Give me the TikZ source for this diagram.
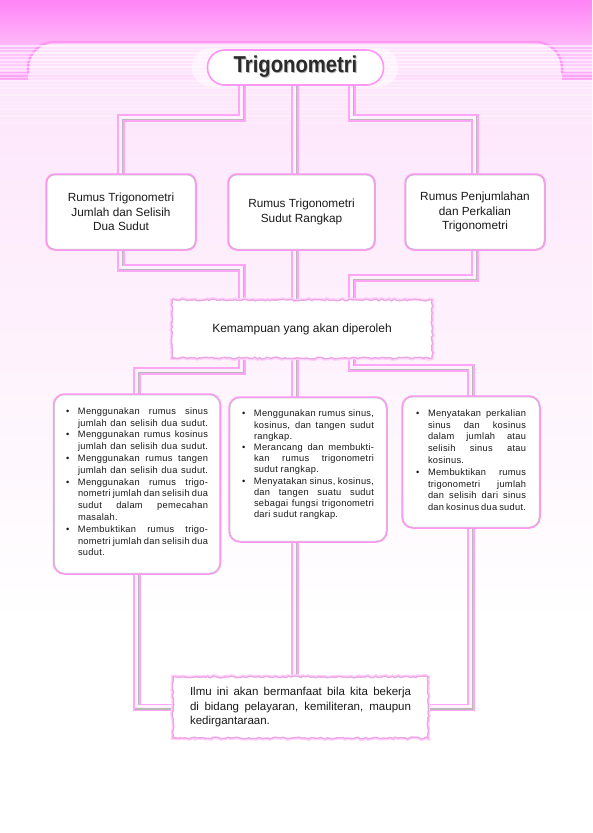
\documentclass[tikz,border=0pt]{standalone}
\usepackage{fontspec}
\setmainfont{Liberation Sans}
\newfontfamily\bulfont[LetterSpace=3]{Liberation Sans}
\usetikzlibrary{decorations.pathmorphing}
\pgfdeclarelayer{bgl}
\pgfdeclarelayer{pipes}
\pgfsetlayers{bgl,pipes,main}
\definecolor{edgepink}{HTML}{FF96F4}
\definecolor{pipepink}{HTML}{FFA6F6}
\definecolor{pipein}{HTML}{FFF2FE}
\definecolor{bgtop}{HTML}{FF84F7}
\definecolor{bgmid}{HTML}{FFC6FA}
\definecolor{tabfill}{HTML}{FFE3FC}
\definecolor{pagepink}{HTML}{FDE6FB}
\definecolor{txt}{HTML}{1A1A1A}
\definecolor{titletxt}{HTML}{2B2B2B}
\newlength\jw
\newcommand\jl[1]{\makebox[\jw][s]{#1}}
\newcommand\jlw[2]{\makebox[#1][s]{#2}}
\tikzset{
  pipe/.style={line width=7.5pt, draw=pipepink, line join=miter,
    postaction={draw=gray!55, line width=4.2pt},
    postaction={draw=pipein, line width=3pt, transform canvas={shift={(-0.7pt,0.7pt)}}}},
  headbox/.style={rounded corners=8pt, fill=white, draw=gray!55, line width=0.5pt,
    preaction={draw=edgepink, line width=3.5pt}, align=center, text=txt,
    font=\fontsize{11.8}{14.6}\selectfont, inner sep=0pt},
  bulbox/.style={rounded corners=10pt, fill=white, draw=gray!45, line width=0.5pt,
    preaction={draw=edgepink, line width=3.5pt}, text=txt, inner ysep=11pt},
  torn/.style={fill=white, draw=edgepink, line width=1.3pt, decorate,
    decoration={random steps, segment length=2.5pt, amplitude=0.9pt}, text=txt,
    preaction={draw=edgepink!45, line width=4pt, decorate},
    postaction={draw=gray!45, line width=0.35pt, decorate}},
}
\begin{document}
\begin{tikzpicture}[x=1pt,y=-1pt]
\pgfmathsetseed{7}
\useasboundingbox (0,0) rectangle (592,833);

% ---------- nodes ----------
\node[draw=edgepink, line width=1.6pt, fill=white, rounded corners=17pt,
  minimum width=176pt, minimum height=35pt, inner sep=0pt, text=titletxt,
  font=\fontsize{23}{23}\selectfont\bfseries] (title) at (295.5,67.5)
  {\scalebox{0.88}[1]{\rlap{\textcolor{gray!55}{\raisebox{-1pt}{\hspace{1pt}Trigonometri}}}Trigonometri}};

\node[headbox, minimum width=148pt, minimum height=74pt] (box1) at (121,212)
  {Rumus Trigonometri\\Jumlah dan Selisih\\Dua Sudut};
\node[headbox, minimum width=145pt, minimum height=74pt] (box2) at (301.5,212)
  {Rumus Trigonometri\\Sudut Rangkap};
\node[headbox, minimum width=138pt, minimum height=74pt] (box3) at (475,212)
  {Rumus Penjumlahan\\dan Perkalian\\Trigonometri};

\node[torn, minimum width=260pt, minimum height=58pt, font=\fontsize{12}{14}\selectfont] (kem) at (302,329)
  {Kemampuan yang akan diperoleh};

\node[bulbox, inner xsep=11.5pt, minimum width=165pt, minimum height=178pt] (bul1) at (137,484)
{\begin{minipage}[c][156pt][t]{142pt}\bulfont\fontsize{9.3}{11.8}\selectfont\setlength\jw{130pt}%
\begin{tabular}{@{}p{12pt}@{}l@{}}
\textbullet & \jl{Menggunakan rumus sinus}\\
 & \jl{jumlah dan selisih dua sudut.}\\
\textbullet & \jl{Menggunakan rumus kosinus}\\
 & \jl{jumlah dan selisih dua sudut.}\\
\textbullet & \jl{Menggunakan rumus tangen}\\
 & \jl{jumlah dan selisih dua sudut.}\\
\textbullet & \jl{Menggunakan rumus trigo-}\\
 & \jl{nometri jumlah dan selisih dua}\\
 & \jl{sudut dalam pemecahan}\\
 & masalah.\\
\textbullet & \jl{Membuktikan rumus trigo-}\\
 & \jl{nometri jumlah dan selisih dua}\\
 & sudut.
\end{tabular}\end{minipage}};

\node[bulbox, inner xsep=12pt, minimum width=156pt, minimum height=143pt] (bul2) at (308,469.5)
{\begin{minipage}[c][121pt][t]{132pt}\bulfont\fontsize{9.3}{11.2}\selectfont\setlength\jw{120pt}%
\begin{tabular}{@{}p{12pt}@{}l@{}}
\textbullet & \jl{Menggunakan rumus sinus,}\\
 & \jl{kosinus, dan tangen sudut}\\
 & rangkap.\\
\textbullet & \jl{Merancang dan membukti-}\\
 & \jl{kan rumus trigonometri}\\
 & sudut rangkap.\\
\textbullet & \jl{Menyatakan sinus, kosinus,}\\
 & \jl{dan tangen suatu sudut}\\
 & \jl{sebagai fungsi trigonometri}\\
 & dari sudut rangkap.
\end{tabular}\end{minipage}};

\node[bulbox, inner xsep=13pt, minimum width=136pt, minimum height=130pt] (bul3) at (471,462)
{\begin{minipage}[c][108pt][t]{110pt}\bulfont\fontsize{9.3}{11.8}\selectfont\setlength\jw{98pt}%
\begin{tabular}{@{}p{12pt}@{}l@{}}
\textbullet & \jl{Menyatakan perkalian}\\
 & \jl{sinus dan kosinus}\\
 & \jl{dalam jumlah atau}\\
 & \jl{selisih sinus atau}\\
 & kosinus.\\
\textbullet & \jl{Membuktikan rumus}\\
 & \jl{trigonometri jumlah}\\
 & \jl{dan selisih dari sinus}\\
 & \jl{dan kosinus dua sudut.}
\end{tabular}\end{minipage}};

\node[torn, minimum width=255pt, minimum height=61pt, align=left,
  font=\fontsize{11.5}{14.5}\selectfont] (bottom) at (300.5,707.5)
  {\jlw{221pt}{Ilmu ini akan bermanfaat bila kita bekerja}\\
   \jlw{221pt}{di bidang pelayaran, kemiliteran, maupun}\\kedirgantaraan.};

\coordinate (cL) at (242,0);
\coordinate (cM) at (295,0);
\coordinate (cR) at (352,0);

% ---------- connectors ----------
\begin{pgfonlayer}{pipes}
\draw[pipe] (title.center -| cM) -- (bottom.center -| cM);
\draw[pipe] (title.center -| cL) |- (121,118) -- (box1.center);
\draw[pipe] (title.center -| cR) |- (475,118) -- (box3.center);
\draw[pipe] (box1.center) |- (242,268) -- (kem.center -| cL);
\draw[pipe] (box3.center) |- (352,278) -- (kem.center -| cR);
\draw[pipe] (kem.center -| cL) |- (137,371) -- (bul1.center);
\draw[pipe] (kem.center -| cR) |- (471,368) -- (bul3.center);
\draw[pipe] (bul1.center) |- (bottom.center);
\draw[pipe] (bul3.center) |- (bottom.center);
\end{pgfonlayer}

% ---------- background ----------
\begin{pgfonlayer}{bgl}
\fill[white] (0,0) rectangle (592,833);
\shade[top color=bgtop, middle color=bgmid, bottom color=tabfill] (0,0) rectangle (592,82);
\shade[top color=pagepink, bottom color=white] (0,82) rectangle (592,620);
\fill[pipepink] (0,72) rectangle (28,80);
\fill[pipepink] (562,72) rectangle (592,80);
\draw[draw=edgepink, line width=2.5pt, fill=tabfill, rounded corners=26pt]
  (28,74) -- (28,42) -- (562,42) -- (562,74);
\begin{scope}
  \clip (0,44) rectangle (592,125);
  \foreach \yy in {46,49.5,...,125} {
    \pgfmathsetmacro\op{max(0,0.6-0.006*(\yy-46))}
    \draw[white, opacity=\op, line width=1.3pt] (0,\yy) -- (592,\yy);
  }
\end{scope}
\fill[white, opacity=0.55, rounded corners=19pt] (192,48) rectangle (398,87);
\end{pgfonlayer}
\end{tikzpicture}
\end{document}
